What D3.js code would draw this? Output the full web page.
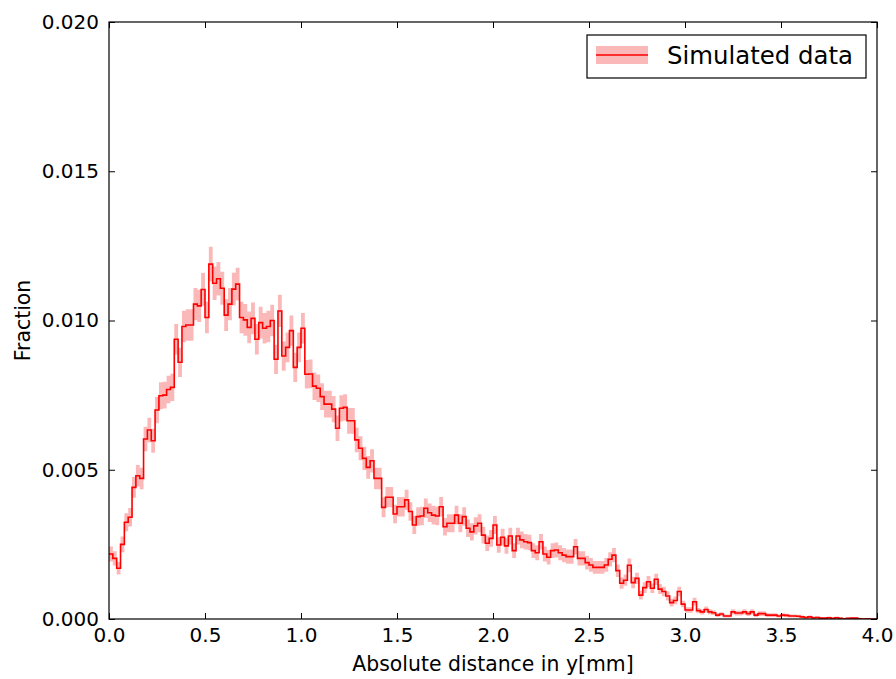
<!DOCTYPE html>
<html>
<head>
<meta charset="utf-8">
<script src="https://cdn.jsdelivr.net/npm/d3@7"></script>
<style>
  html, body { margin: 0; padding: 0; background: #fff; }
  svg { display: block; font-family: "DejaVu Sans", sans-serif; }
</style>
</head>
<body>
<svg id="chart" width="896" height="679"></svg>
<script>
// ---- data ----
const xDomain = [0, 4];
const binWidth = 0.02; // 200 bins over 0..4 mm
const fraction = [
  0.00218,0.00203,0.00170,0.00250,0.00324,0.00341,0.00441,0.00480,0.00471,0.00603,
  0.00633,0.00597,0.00700,0.00748,0.00750,0.00769,0.00776,0.00937,0.00860,0.00980,
  0.00985,0.00985,0.01055,0.01049,0.01104,0.01010,0.01189,0.01125,0.01140,0.01108,
  0.01018,0.01055,0.01105,0.01122,0.01010,0.01002,0.00977,0.01007,0.00937,0.00993,
  0.00974,0.00980,0.01000,0.00870,0.01032,0.00881,0.00910,0.00966,0.00843,0.00910,
  0.00974,0.00820,0.00821,0.00780,0.00773,0.00745,0.00720,0.00720,0.00703,0.00639,
  0.00706,0.00709,0.00664,0.00664,0.00600,0.00572,0.00538,0.00508,0.00530,0.00471,
  0.00471,0.00374,0.00408,0.00408,0.00352,0.00376,0.00376,0.00399,0.00360,0.00315,
  0.00343,0.00345,0.00371,0.00356,0.00348,0.00345,0.00376,0.00309,0.00321,0.00321,
  0.00348,0.00321,0.00343,0.00304,0.00292,0.00312,0.00321,0.00281,0.00254,0.00270,
  0.00315,0.00248,0.00274,0.00245,0.00278,0.00229,0.00278,0.00265,0.00259,0.00256,
  0.00229,0.00222,0.00259,0.00218,0.00207,0.00229,0.00231,0.00222,0.00214,0.00209,
  0.00209,0.00242,0.00203,0.00203,0.00189,0.00181,0.00173,0.00173,0.00173,0.00181,
  0.00200,0.00214,0.00162,0.00120,0.00130,0.00180,0.00122,0.00136,0.00080,0.00105,
  0.00125,0.00103,0.00133,0.00100,0.00092,0.00077,0.00055,0.00062,0.00092,0.00050,
  0.00030,0.00030,0.00058,0.00028,0.00024,0.00032,0.00024,0.00021,0.00013,0.00017,
  0.00010,0.00010,0.00024,0.00020,0.00020,0.00024,0.00018,0.00024,0.00013,0.00018,
  0.00018,0.00013,0.00013,0.00013,0.00010,0.00013,0.00012,0.00010,0.00010,0.00009,
  0.00007,0.00005,0.00007,0.00004,0.00005,0.00003,0.00003,0.00004,0.00002,0.00004,
  0.00002,0.00001,0.00002,0.00003,0.00003,0.00001,0.00000,0.00001,0.00000,0.00000
];
// statistical error per bin, in units of 1e-5
const errorE5 = [
  25,24,21,26,30,31,35,36,36,41, 41,40,44,45,45,46,46,51,49,53,
  53,53,54,54,55,53,58,56,56,55, 53,54,55,55,53,53,53,53,51,53,
  51,53,53,49,54,49,50,51,49,50, 51,48,48,46,46,45,45,45,44,43,
  44,44,43,43,41,40,39,38,39,36, 36,33,34,34,31,33,33,34,31,30,
  31,31,33,31,31,31,33,29,30,30, 31,30,31,29,29,29,30,28,26,28,
  30,26,28,26,28,25,28,28,26,26, 25,25,26,25,24,25,25,25,24,24,
  24,26,24,24,23,23,21,21,21,23, 24,24,21,19,19,23,19,19,15,18,
  19,16,19,16,16,15,13,13,16,11, 9,9,13,9,9,10,9,8,6,6,
  5,5,9,8,8,9,8,9,6,8,           8,6,6,6,5,6,6,5,5,5,
  5,4,5,4,4,3,3,4,3,4,           3,1,3,3,3,1,0,1,0,0
];
const xTicks = [0.0, 0.5, 1.0, 1.5, 2.0, 2.5, 3.0, 3.5, 4.0];
const yTicks = [0.000, 0.005, 0.010, 0.015, 0.020];
const xLabel = "Absolute distance in y[mm]";
const yLabel = "Fraction";
const seriesName = "Simulated data";

// ---- layout ----
const L = 109, R = 877, T = 22, B = 619;
const svg = d3.select("#chart");
const x = d3.scaleLinear().domain(xDomain).range([L, R]);
const y = d3.scaleLinear().domain([0, 0.020]).range([B, T]);

const pts = fraction.map((v, i) => ({ x0: xDomain[0] + i * binWidth, v, e: errorE5[i] * 1e-5 }));
const stepPts = pts.concat([{ x0: xDomain[1], v: fraction[fraction.length - 1], e: errorE5[errorE5.length - 1] * 1e-5 }]);

svg.append("clipPath").attr("id", "clip")
  .append("rect").attr("x", L).attr("y", T).attr("width", R - L).attr("height", B - T);

const g = svg.append("g").attr("clip-path", "url(#clip)");

// error band
g.append("path")
  .datum(stepPts)
  .attr("d", d3.area().curve(d3.curveStepAfter)
    .x(d => x(d.x0))
    .y0(d => y(Math.max(0, d.v - d.e)))
    .y1(d => y(d.v + d.e)))
  .attr("fill", "#ee0000")
  .attr("fill-opacity", 0.28)
  .attr("stroke", "none");

// step line
g.append("path")
  .datum(stepPts)
  .attr("d", d3.line().curve(d3.curveStepAfter).x(d => x(d.x0)).y(d => y(d.v)))
  .attr("fill", "none")
  .attr("stroke", "#ff0000")
  .attr("stroke-width", 1.6);

// axes (inward ticks on all sides)
const fs = 20;
const axB = svg.append("g").attr("transform", `translate(0,${B})`)
  .call(d3.axisBottom(x).tickValues(xTicks).tickFormat(d3.format(".1f")).tickSize(-6).tickPadding(9));
const axT = svg.append("g").attr("transform", `translate(0,${T})`)
  .call(d3.axisTop(x).tickValues(xTicks).tickFormat("").tickSize(-6));
const axL = svg.append("g").attr("transform", `translate(${L},0)`)
  .call(d3.axisLeft(y).tickValues(yTicks).tickFormat(d3.format(".3f")).tickSize(-6).tickPadding(10));
const axR = svg.append("g").attr("transform", `translate(${R},0)`)
  .call(d3.axisRight(y).tickValues(yTicks).tickFormat("").tickSize(-6));
[axB, axT, axL, axR].forEach(a => {
  a.select(".domain").remove();
  a.selectAll(".tick line").attr("stroke", "#000").attr("stroke-width", 1);
  a.selectAll(".tick text").attr("fill", "#000").attr("font-size", fs).attr("font-family", "DejaVu Sans");
});

// frame
svg.append("rect").attr("x", L).attr("y", T).attr("width", R - L).attr("height", B - T)
  .attr("fill", "none").attr("stroke", "#000").attr("stroke-width", 1.2);

// axis labels
svg.append("text").attr("x", (L + R) / 2).attr("y", 671)
  .attr("text-anchor", "middle").attr("font-size", 20.4).attr("fill", "#000").text(xLabel);
svg.append("text").attr("transform", `translate(30,${(T + B) / 2}) rotate(-90)`)
  .attr("text-anchor", "middle").attr("font-size", 20.4).attr("fill", "#000").text(yLabel);

// legend
const lg = svg.append("g");
lg.append("rect").attr("x", 587).attr("y", 35).attr("width", 279).attr("height", 43)
  .attr("fill", "#fff").attr("stroke", "#000").attr("stroke-width", 1.2);
lg.append("rect").attr("x", 596).attr("y", 46).attr("width", 52).attr("height", 18)
  .attr("fill", "#ee0000").attr("fill-opacity", 0.28);
lg.append("line").attr("x1", 596).attr("x2", 648).attr("y1", 55).attr("y2", 55)
  .attr("stroke", "#ff0000").attr("stroke-width", 1.6);
lg.append("text").attr("x", 667).attr("y", 64).attr("font-size", 24.4).attr("fill", "#000").text(seriesName);
</script>
</body>
</html>
